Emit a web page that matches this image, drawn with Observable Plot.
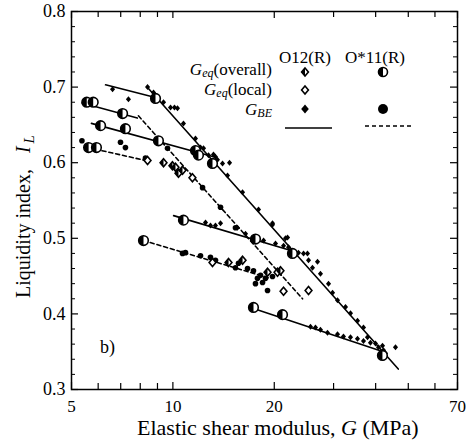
<!DOCTYPE html>
<html><head><meta charset="utf-8">
<script src="https://cdn.jsdelivr.net/npm/d3@7"></script>
<script src="https://cdn.jsdelivr.net/npm/@observablehq/plot@0.6"></script>
<style>body{margin:0;background:#fff}#chart{position:absolute;left:0;top:0}
#chart svg text{font-family:"Liberation Serif","Times New Roman",serif !important}</style>
</head><body><div id="chart"></div>
<script>
// ---- data (G in MPa, liquidity index I_L) ----
const o12Gbe = [
 [6.62,0.697],[7.38,0.684],[8.41,0.700],[8.76,0.693],[8.88,0.689],[9.38,0.680],[9.84,0.673],[10.11,0.673],[10.32,0.672],
 [10.75,0.652],[11.67,0.632],[12.08,0.620],[12.33,0.619],[12.76,0.610],[13.2,0.611],[13.38,0.608],[13.56,0.604],[14.04,0.599],
 [14.73,0.600],[14.53,0.583],[16.10,0.561],[17.96,0.538],[19.76,0.518],[21.90,0.501],[25.97,0.461],[27.43,0.453],[28.98,0.440],
 [29.79,0.428],[30.82,0.418],[32.55,0.409],[33.68,0.401],[35.33,0.391],[36.81,0.382],[37.83,0.369],
 [12.50,0.521],[12.93,0.517],[13.38,0.517],[13.85,0.520],[15.55,0.514],[16.43,0.506],[17.23,0.497],[17.83,0.501],[18.59,0.497],
 [19.76,0.520],[20.17,0.493],[21.60,0.500],[21.31,0.490],[22.05,0.488],[23.60,0.481],[24.43,0.480],[25.10,0.480],[25.28,0.471],[26.88,0.469],
 [38.61,0.362],[39.96,0.361],[40.79,0.356],[41.92,0.358],[42.21,0.352],[42.78,0.348],[42.2,0.342],[45.81,0.356],
 [25.62,0.383],[26.51,0.382],[27.43,0.379],[28.78,0.375],[30.82,0.373],[32.10,0.370],[33.68,0.369],[35.33,0.367],[36.81,0.364]
];
const o11Gbe = [
 [5.37,0.629],[6.99,0.627],[7.23,0.620],[8.29,0.606],[9.64,0.619],[12.25,0.567],[13.85,0.541],[15.34,0.514],
 [10.68,0.480],[10.90,0.481],[12.08,0.477],[12.93,0.475],[13.38,0.471],[15.34,0.461],[15.66,0.467],[16.66,0.460],
 [17.83,0.447],[17.59,0.440],[18.46,0.4415],[18.84,0.447],[19.10,0.431],[17.35,0.457],[18.21,0.451],[19.76,0.4495]
];
const o12Overall = [[9.38,0.600],[9.97,0.596],[10.18,0.594],[10.39,0.586],[10.68,0.590],[14.63,0.468],[16.10,0.471],[19.10,0.455],[20.87,0.457]];
const o12Local = [[8.41,0.603],[11.43,0.580],[13.11,0.468],[20.45,0.455],[21.31,0.430],[25.28,0.431]];
const o11Overall = [
 [5.55,0.680],[5.80,0.680],[7.09,0.665],[6.10,0.649],[7.23,0.645],[8.88,0.685],[9.06,0.629],[11.67,0.616],[11.91,0.610],
 [13.11,0.599],[5.62,0.620],[5.93,0.620],[10.75,0.524],[17.35,0.4085],[21.16,0.399],[17.59,0.499],[22.65,0.480],[41.9,0.345],[8.18,0.497]
];
// fitted lines (end points)
const o12Lines = [
 [[6.31,0.703],[8.58,0.688]],
 [[8.41,0.6995],[46.7,0.327]],
 [[5.38,0.679],[7.84,0.659]],
 [[5.73,0.652],[13.2,0.608]],
 [[10.05,0.530],[23.6,0.481]],
 [[17.0,0.4085],[42.8,0.349]]
];
const o11Lines = [
 [[7.90,0.662],[24.27,0.420]],
 [[5.61,0.620],[8.28,0.603]],
 [[8.18,0.497],[19.49,0.447]]
];
// ticks
const xMajor = [5,10,20,70];
const xMinor = [6,7,8,9,30,40,50,60];
const yMajor = [0.3,0.4,0.5,0.6,0.7,0.8];
const yMinor = [0.32,0.34,0.36,0.38,0.42,0.44,0.46,0.48,0.52,0.54,0.56,0.58,0.62,0.64,0.66,0.68,0.72,0.74,0.76,0.78];

// ---- symbols ----
const rhombus = {draw(ctx, size){const b=Math.sqrt(size/Math.PI), a=0.85*b; ctx.moveTo(0,-b); ctx.lineTo(a,0); ctx.lineTo(0,b); ctx.lineTo(-a,0); ctx.closePath();}};
const rhombusLeft = {draw(ctx, size){const b=Math.sqrt(size/Math.PI), a=0.85*b; ctx.moveTo(0,-b); ctx.lineTo(-a,0); ctx.lineTo(0,b); ctx.closePath();}};
const circleLeft = {draw(ctx, size){const r=Math.sqrt(size/Math.PI); ctx.moveTo(0,-r); ctx.arc(0,0,r,-Math.PI/2,Math.PI/2,true); ctx.closePath();}};

const toRows = (lines) => lines.flatMap((seg,i) => seg.map(([g,il]) => ({g, il, id:i})));

const W = 472, H = 441, mL = 71, mR = 15, mT = 11, mB = 52;
const fw = W - mL - mR, fh = H - mT - mB;
const serif = '"Liberation Serif","Times New Roman",serif';

const chart = Plot.plot({
  width: W, height: H, marginLeft: mL, marginRight: mR, marginTop: mT, marginBottom: mB,
  style: {fontSize: "18px", color: "black", background: "white", overflow: "visible"},
  x: {type: "log", domain: [5, 70]},
  y: {domain: [0.3, 0.8]},
  marks: [
    Plot.tickX(xMajor, {x: d => d, insetTop: fh - 7, stroke: "black", strokeWidth: 1.2}),
    Plot.tickX(xMajor, {x: d => d, insetBottom: fh - 7, stroke: "black", strokeWidth: 1.2}),
    Plot.tickX(xMinor, {x: d => d, insetTop: fh - 6, stroke: "black", strokeWidth: 1.2}),
    Plot.tickX(xMinor, {x: d => d, insetBottom: fh - 6, stroke: "black", strokeWidth: 1.2}),
    Plot.tickY(yMajor, {y: d => d, insetRight: fw - 7, stroke: "black", strokeWidth: 1.2}),
    Plot.tickY(yMajor, {y: d => d, insetLeft: fw - 7, stroke: "black", strokeWidth: 1.2}),
    Plot.tickY(yMinor, {y: d => d, insetRight: fw - 4, stroke: "black", strokeWidth: 1}),
    Plot.tickY(yMinor, {y: d => d, insetLeft: fw - 4, stroke: "black", strokeWidth: 1}),
    Plot.axisX({ticks: xMajor, tickSize: 0, tickPadding: 10, tickFormat: d => String(d), label: null, fontSize: 17}),
    Plot.axisY({ticks: yMajor, tickSize: 0, tickPadding: 6, tickFormat: d3.format(".1f"), label: null, fontSize: 18}),
    Plot.frame({stroke: "black", strokeWidth: 1.5}),
    Plot.line(toRows(o12Lines), {x: "g", y: "il", z: "id", stroke: "black", strokeWidth: 1.6}),
    Plot.line(toRows(o11Lines), {x: "g", y: "il", z: "id", stroke: "black", strokeWidth: 1.6, strokeDasharray: "4,3"}),
    Plot.dot(o12Gbe, {x: d => d[0], y: d => d[1], symbol: rhombus, r: 3, fill: "black", stroke: "none"}),
    Plot.dot(o11Gbe, {x: d => d[0], y: d => d[1], r: 2.8, fill: "black", stroke: "none"}),
    Plot.dot(o12Local, {x: d => d[0], y: d => d[1], symbol: rhombus, r: 4, fill: "white", stroke: "black", strokeWidth: 1.6}),
    Plot.dot(o12Overall, {x: d => d[0], y: d => d[1], symbol: rhombus, r: 4, fill: "white", stroke: "black", strokeWidth: 1.6}),
    Plot.dot(o12Overall, {x: d => d[0], y: d => d[1], symbol: rhombusLeft, r: 4, fill: "black", stroke: "none"}),
    Plot.dot(o11Overall, {x: d => d[0], y: d => d[1], r: 4.8, fill: "white", stroke: "black", strokeWidth: 1.6}),
    Plot.dot(o11Overall, {x: d => d[0], y: d => d[1], symbol: circleLeft, r: 4.8, fill: "black", stroke: "none"})
  ]
});
document.getElementById("chart").appendChild(chart);

// ---- annotations, axis titles, legend ----
const svg = d3.select(chart);
const g = svg.append("g").attr("fill", "black").style("font-family", serif).attr("text-anchor", "start");

function txt(x, y, size, anchor) {
  return g.append("text").attr("x", x).attr("y", y).attr("font-size", size)
    .attr("text-anchor", anchor).style("text-anchor", anchor).style("font-family", serif);
}

// x title
const xt = txt(137, 435, 22, "start");
xt.append("tspan").text("Elastic shear modulus, ");
xt.append("tspan").attr("font-style", "italic").text("G");
xt.append("tspan").text(" (MPa)");

// y title
const yt = g.append("text").attr("transform", "translate(30,298) rotate(-90)").attr("font-size", 20)
  .attr("text-anchor", "start").style("text-anchor", "start").style("font-family", serif);
yt.append("tspan").text("Liquidity index,");
yt.append("tspan").attr("dx", 16).attr("font-style", "italic").text("I");
yt.append("tspan").attr("dx", 3).attr("dy", 4).attr("font-style", "italic").attr("font-size", 15).text("L");

// panel label
txt(100, 353, 18, "start").text("b)");

// legend headers
txt(305, 63, 17, "middle").text("O12(R)");
txt(375, 63, 17, "middle").text("O*11(R)");

function gLabel(y, sub, rest) {
  const t = txt(272, y, 17, "end");
  t.append("tspan").attr("font-style", "italic").text("G");
  t.append("tspan").attr("font-style", "italic").attr("font-size", 12).attr("dy", 2).text(sub);
  if (rest) t.append("tspan").attr("dy", -2).text(rest);
}
gLabel(75, "eq", "(overall)");
gLabel(95, "eq", "(local)");
gLabel(115, "BE", null);

const sym = (type, r) => d3.symbol(type, Math.PI * r * r)();
g.append("path").attr("transform", "translate(305,72)").attr("d", sym(rhombus, 4)).attr("fill", "white").attr("stroke", "black").attr("stroke-width", 1.6);
g.append("path").attr("transform", "translate(305,72)").attr("d", sym(rhombusLeft, 4)).attr("fill", "black");
g.append("path").attr("transform", "translate(305,90)").attr("d", sym(rhombus, 4)).attr("fill", "white").attr("stroke", "black").attr("stroke-width", 1.6);
g.append("path").attr("transform", "translate(305,109)").attr("d", sym(rhombus, 4.5)).attr("fill", "black");
g.append("path").attr("transform", "translate(383,72)").attr("d", sym(d3.symbolCircle, 4.5)).attr("fill", "white").attr("stroke", "black").attr("stroke-width", 1.6);
g.append("path").attr("transform", "translate(383,72)").attr("d", sym(circleLeft, 4.5)).attr("fill", "black");
g.append("path").attr("transform", "translate(383,109)").attr("d", sym(d3.symbolCircle, 5)).attr("fill", "black");
g.append("line").attr("x1", 285).attr("x2", 332).attr("y1", 128).attr("y2", 128).attr("stroke", "black").attr("stroke-width", 1.6);
g.append("line").attr("x1", 365).attr("x2", 413).attr("y1", 126).attr("y2", 126).attr("stroke", "black").attr("stroke-width", 1.6).attr("stroke-dasharray", "4,3");
</script></body></html>
